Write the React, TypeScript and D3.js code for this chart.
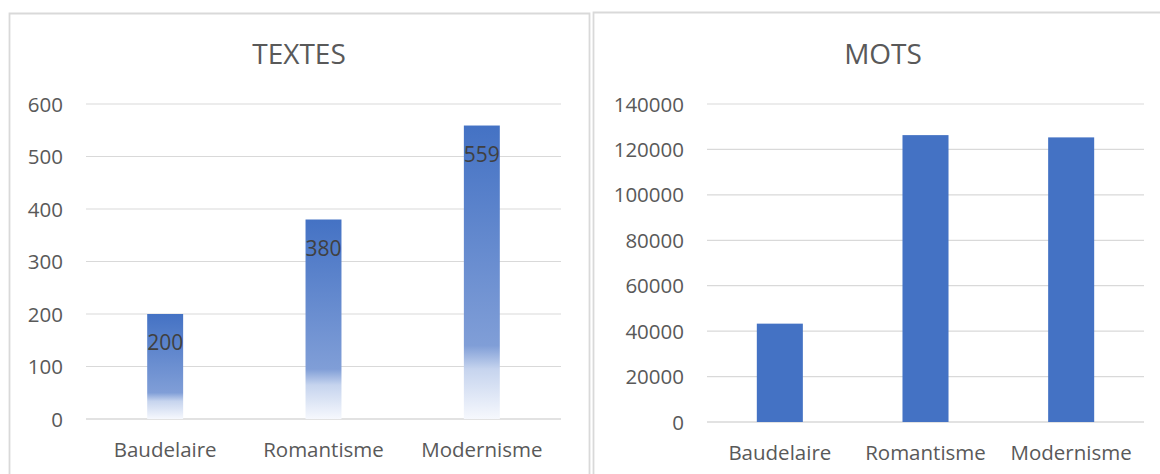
import React from "react";
import * as d3 from "d3";

const categories = ["Baudelaire", "Romantisme", "Modernisme"];
const textesValues = [200, 380, 559];
const motsValues = [43300, 126300, 125300];
const textesTicks = [0, 100, 200, 300, 400, 500, 600];
const motsTicks = [0, 20000, 40000, 60000, 80000, 100000, 120000, 140000];

const FONT = "'Open Sans', 'DejaVu Sans', sans-serif";
const TXT = "#595959";
const GRID = "#d9d9d9";
const BLUE = "#4472C4";

type PanelProps = {
  title: string;
  values: number[];
  ticks: number[];
  x0: number;
  x1: number;
  yTop: number;
  yBottom: number;
  titleX: number;
  padInner: number;
  gradient: boolean;
  labels: boolean;
};

function Panel(p: PanelProps) {
  const x = d3
    .scaleBand<string>()
    .domain(categories)
    .range([p.x0, p.x1])
    .paddingInner(p.padInner)
    .paddingOuter(p.padInner / 2);
  const maxT = p.ticks[p.ticks.length - 1];
  const y = d3.scaleLinear().domain([0, maxT]).range([p.yBottom, p.yTop]);
  return (
    <g>
      <text
        x={p.titleX}
        y={64}
        textAnchor="middle"
        fontFamily={FONT}
        fontSize={28}
        fill={TXT}
      >
        {p.title}
      </text>
      {p.ticks.map((t) => (
        <g key={t}>
          <line
            x1={p.x0}
            x2={p.x1}
            y1={y(t)}
            y2={y(t)}
            stroke={GRID}
            strokeWidth={t === 0 ? 1.6 : 1.2}
          />
          <text
            x={p.x0 - 23}
            y={y(t) + 7.5}
            textAnchor="end"
            fontFamily={FONT}
            fontSize={20.5}
            fill={TXT}
          >
            {t}
          </text>
        </g>
      ))}
      {categories.map((c, i) => {
        const v = p.values[i];
        const bx = x(c)!;
        const bw = x.bandwidth();
        return (
          <g key={c}>
            <rect
              x={bx}
              y={y(v)}
              width={bw}
              height={y(0) - y(v)}
              fill={p.gradient ? "url(#fadeGrad)" : BLUE}
            />
            {p.labels && (
              <text
                x={bx + bw / 2}
                y={y(v) + 36}
                textAnchor="middle"
                fontFamily={FONT}
                fontSize={21}
                fill="#404040"
              >
                {v}
              </text>
            )}
            <text
              x={bx + bw / 2}
              y={y(0) + 37.5}
              textAnchor="middle"
              fontFamily={FONT}
              fontSize={20.5}
              fill={TXT}
            >
              {c}
            </text>
          </g>
        );
      })}
    </g>
  );
}

export default function App() {
  return (
    <svg
      width={1160}
      height={474}
      style={{ position: "absolute", left: 0, top: 0, background: "#fff" }}
    >
      <defs>
        <linearGradient id="fadeGrad" x1="0" y1="0" x2="0" y2="1">
          <stop offset="0" stopColor="#4472C4" />
          <stop offset="0.75" stopColor="#809ED7" />
          <stop offset="0.83" stopColor="#C6D4EE" />
          <stop offset="1" stopColor="#F6F8FD" />
        </linearGradient>
      </defs>
      <rect x={0} y={0} width={1160} height={474} fill="#fff" />
      <path d="M9.5,480 V13.5 H589.5 V480" fill="none" stroke={GRID} strokeWidth={1.8} />
      <path d="M593.5,480 V12.5 H1170" fill="none" stroke={GRID} strokeWidth={1.8} />
      <Panel
        title="TEXTES"
        values={textesValues}
        ticks={textesTicks}
        x0={86}
        x1={561}
        yTop={104}
        yBottom={419}
        titleX={299}
        padInner={0.773}
        gradient={true}
        labels={true}
      />
      <Panel
        title="MOTS"
        values={motsValues}
        ticks={motsTicks}
        x0={707}
        x1={1144}
        yTop={104}
        yBottom={422}
        titleX={883}
        padInner={0.684}
        gradient={false}
        labels={false}
      />
    </svg>
  );
}
